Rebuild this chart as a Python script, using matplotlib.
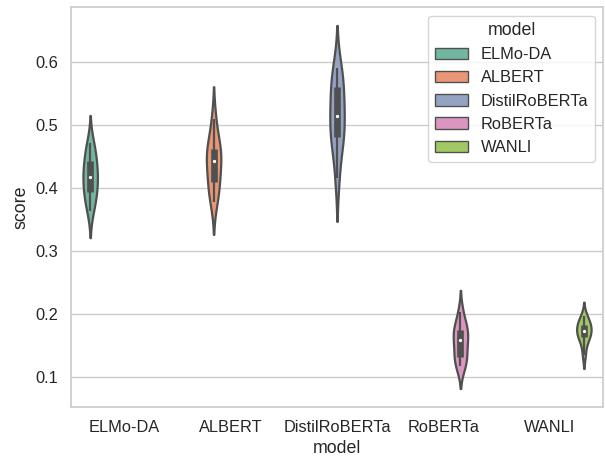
import numpy as np
import pandas as pd
import matplotlib
matplotlib.use("Agg")
import matplotlib.pyplot as plt
import seaborn as sns
from matplotlib import cbook

# scores per model
models = ["ELMo-DA", "ALBERT", "DistilRoBERTa", "RoBERTa", "WANLI"]
elmo_da = [0.364, 0.382, 0.390, 0.404, 0.414, 0.421, 0.432, 0.446, 0.456, 0.472]
albert = [0.377, 0.395, 0.405, 0.422, 0.436, 0.449, 0.456, 0.464, 0.476, 0.510]
distilroberta = [0.415, 0.468, 0.478, 0.490, 0.508, 0.522, 0.540, 0.568, 0.570, 0.590]
roberta = [0.116, 0.124, 0.128, 0.140, 0.154, 0.161, 0.170, 0.176, 0.180, 0.202]
wanli = [0.135, 0.155, 0.162, 0.166, 0.171, 0.175, 0.179, 0.184, 0.188, 0.196]

scores = [elmo_da, albert, distilroberta, roberta, wanli]
df = pd.DataFrame({
    "model": np.repeat(models, [len(s) for s in scores]),
    "score": np.concatenate(scores),
})

sns.set_theme(style="whitegrid")
plt.rcParams["font.family"] = ["Liberation Sans", "DejaVu Sans"]

GRAY = "#505050"
LW = 1.6

fig = plt.figure(figsize=(6.05, 4.57), dpi=100)
ax = fig.add_axes([0.1174, 0.110, 0.8793, 0.874])

sns.violinplot(data=df, x="model", y="score", hue="model", order=models,
               hue_order=models, palette="Set2", dodge=True, inner=None,
               density_norm="width", linewidth=LW, linecolor=GRAY, ax=ax)

# slimmer bodies + inner box drawn by hand at each violin centre
for coll, vals in zip(ax.collections[:len(models)], scores):
    path = coll.get_paths()[0]
    verts = path.vertices
    xc = (verts[:, 0].min() + verts[:, 0].max()) / 2
    verts[:, 0] = xc + (verts[:, 0] - xc) * 0.85
    st = cbook.boxplot_stats(np.asarray(vals))[0]
    ax.plot([xc, xc], [st["whislo"], st["whishi"]], color=GRAY, lw=LW,
            solid_capstyle="butt", zorder=3)
    ax.plot([xc, xc], [st["q1"], st["q3"]], color=GRAY, lw=LW * 3,
            solid_capstyle="butt", zorder=3)
    ax.scatter([xc], [st["med"]], s=(LW * 2) ** 2, color="white",
               edgecolor=GRAY, linewidth=0.8, zorder=4)

ax.set_xlim(-0.5, len(models) - 0.5)
ax.set_xlabel("model", fontsize=12.8)
ax.set_ylabel("score", fontsize=12.8)
ax.tick_params(labelsize=11.8)
ax.set_yticks([0.1, 0.2, 0.3, 0.4, 0.5, 0.6])

if ax.get_legend() is not None:
    sns.move_legend(ax, "upper right", title="model", fontsize=11.8,
                    title_fontsize=12.8)
else:
    from matplotlib.patches import Patch
    handles = [Patch(facecolor=c.get_facecolor()[0], edgecolor=GRAY)
               for c in ax.collections[:len(models)]]
    ax.legend(handles, models, title="model", loc="upper right",
              fontsize=11.8, title_fontsize=12.8)
for h in ax.get_legend().legend_handles:
    h.set_linewidth(1.0)

fig.savefig("out.png", dpi=100)
